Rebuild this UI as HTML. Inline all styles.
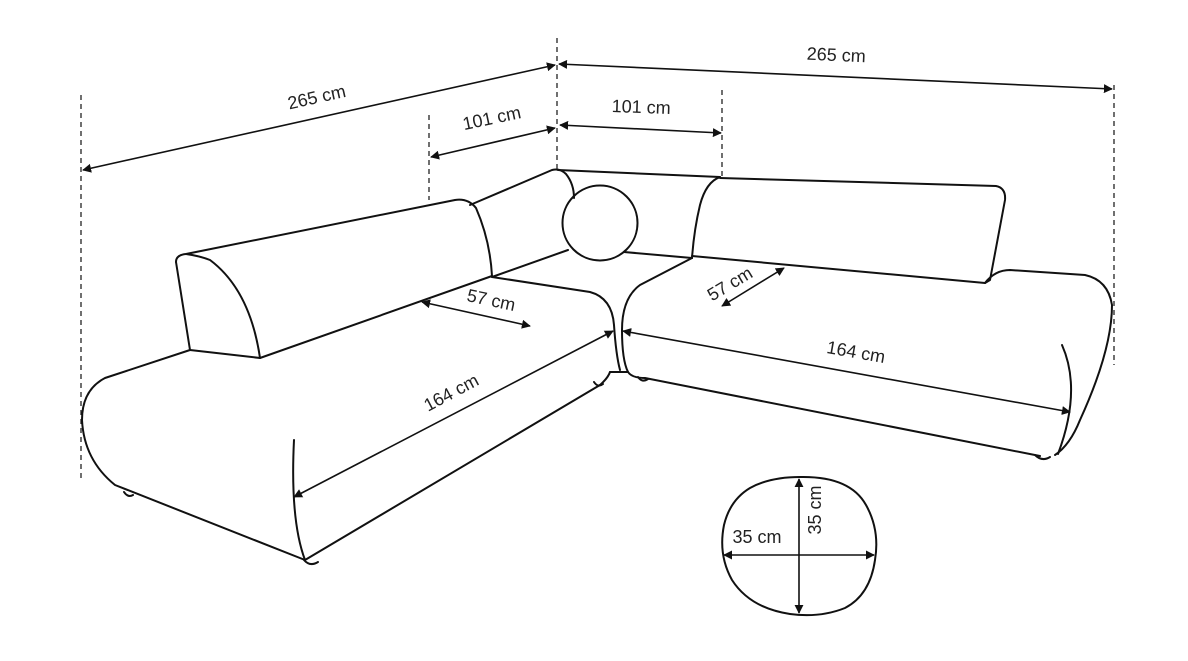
<!DOCTYPE html>
<html><head><meta charset="utf-8"><style>
html,body{margin:0;padding:0;background:#fff;}
svg{display:block;}
text{font-family:"Liberation Sans",sans-serif;font-size:18px;fill:#222;}
</style></head><body>
<svg width="1188" height="661" viewBox="0 0 1188 661" xmlns="http://www.w3.org/2000/svg">
<defs>
<marker id="a" viewBox="0 0 10 10" refX="9" refY="5" markerWidth="9" markerHeight="9" orient="auto-start-reverse" markerUnits="userSpaceOnUse">
<path d="M0,0 L10,5 L0,10 z" fill="#111"/></marker>
</defs>
<g stroke="#222" stroke-width="1.3" stroke-dasharray="5,4" fill="none">
<line x1="81" y1="95" x2="81" y2="478"/>
<line x1="557" y1="38" x2="557" y2="170"/>
<line x1="1114" y1="85" x2="1114" y2="365"/>
<line x1="429" y1="115" x2="429" y2="200"/>
<line x1="722" y1="90" x2="722" y2="178"/>
</g>
<g stroke="#111" stroke-width="1.6" fill="none" marker-start="url(#a)" marker-end="url(#a)">
<line x1="83" y1="170" x2="555" y2="65"/>
<line x1="559" y1="64" x2="1112" y2="89"/>
<line x1="431" y1="157" x2="555" y2="128"/>
<line x1="560" y1="125" x2="721" y2="133"/>
<line x1="422" y1="302" x2="530" y2="326"/>
<line x1="722" y1="306" x2="784" y2="268"/>
<line x1="294" y1="497" x2="613" y2="331"/>
<line x1="623" y1="331" x2="1070" y2="412"/>
<line x1="724" y1="555" x2="874" y2="555"/>
<line x1="799" y1="479" x2="799" y2="613"/>
</g>
<g stroke="#111" stroke-width="2" fill="none" stroke-linejoin="round" stroke-linecap="round">
<path d="M176,262 Q176,255 186,254 L455,200 Q468,198 476,208 Q490,240 492,276"/>
<path d="M176,262 L190,350 L260,358 Q250,290 210,260 Q200,256 186,254"/>
<path d="M260,358 L492,276"/>
<path d="M470,205 L552,170 Q560,168 566,174 Q574,184 574,198"/>
<path d="M558,170 L720,177"/>
<path d="M720,177 Q706,182 700,205 Q694,230 692,258"/>
<circle cx="600" cy="223" r="37.5"/>
<path d="M492,277 L568,250"/>
<path d="M624,252 L692,258"/>
<path d="M190,350 L105,378 Q82,390 82,420 Q84,460 115,485 L305,560 L600,385"/>
<path d="M492,277 L590,292 Q612,298 614,325 Q616,355 620,370"/>
<path d="M294,440 Q290,520 305,560"/>
<path d="M720,178 L996,186 Q1006,188 1005,200 L990,280 L985,283"/>
<path d="M692,256 L985,283"/>
<path d="M692,258 L640,285 Q622,298 622,330 Q622,360 628,372 Q632,378 645,378 L1040,456"/>
<path d="M985,283 Q995,270 1010,270 L1085,275 Q1108,280 1112,305 Q1112,350 1080,420 Q1070,445 1055,455"/>
<path d="M1062,345 Q1082,390 1058,454"/>
<path d="M610,372 L628,372"/>
<path d="M600,385 Q608,378 610,372"/>
<path d="M124,492 Q128,498 133,495"/>
<path d="M304,560 Q310,567 318,562"/>
<path d="M594,382 Q598,388 603,384"/>
<path d="M638,377 Q642,383 648,379"/>
<path d="M1035,455 Q1042,462 1050,457"/>
<path d="M800,477 Q850,476 866,505 Q880,530 875,560 Q870,595 845,608 Q820,618 790,614 Q750,608 732,580 Q718,555 724,525 Q730,500 750,488 Q770,477 800,477 Z"/>
</g>
<text transform="translate(318,103) rotate(-12.6)" text-anchor="middle">265 cm</text>
<text transform="translate(836,61) rotate(2.6)" text-anchor="middle">265 cm</text>
<text transform="translate(493,124) rotate(-12)" text-anchor="middle">101 cm</text>
<text transform="translate(641,113) rotate(2)" text-anchor="middle">101 cm</text>
<text transform="translate(490,306) rotate(12)" text-anchor="middle">57 cm</text>
<text transform="translate(733,289) rotate(-31)" text-anchor="middle">57 cm</text>
<text transform="translate(454,398) rotate(-28)" text-anchor="middle">164 cm</text>
<text transform="translate(855,358) rotate(10)" text-anchor="middle">164 cm</text>
<text x="757" y="543" text-anchor="middle">35 cm</text>
<text transform="translate(821,510) rotate(-90)" text-anchor="middle">35 cm</text>
</svg>
</body></html>
